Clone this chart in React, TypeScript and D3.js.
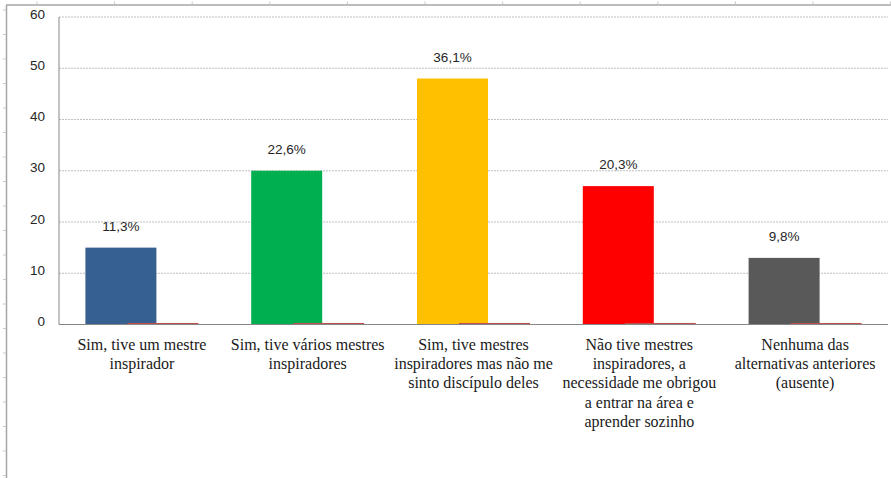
import React from "react";
import * as d3 from "d3";

const categories: string[][] = [
  ["Sim, tive um mestre", "inspirador"],
  ["Sim, tive vários mestres", "inspiradores"],
  ["Sim, tive mestres", "inspiradores mas não me", "sinto discípulo deles"],
  ["Não tive mestres", "inspiradores, a", "necessidade me obrigou", "a entrar na área e", "aprender sozinho"],
  ["Nenhuma das", "alternativas anteriores", "(ausente)"],
];
const counts = [15, 30, 48, 27, 13];
const secondSeries = [0.3, 0.3, 0.3, 0.3, 0.3];
const percentLabels = ["11,3%", "22,6%", "36,1%", "20,3%", "9,8%"];
const barColors = ["#36608F", "#00B050", "#FFC000", "#FF0000", "#595959"];
const yTicks = [0, 10, 20, 30, 40, 50, 60];

const W = 891;
const H = 478;
const plotLeft = 59;
const plotRight = 888;
const plotTop = 17;
const plotBottom = 324.5;

export default function App() {
  const x = d3
    .scaleBand<number>()
    .domain(d3.range(categories.length))
    .range([plotLeft, plotRight]);
  const y = d3.scaleLinear().domain([0, 60]).range([plotBottom, plotTop]);
  const bw = 71;
  const offset = 21;

  const topRulerTicks = d3.range(37, W, 77.6);
  const leftRulerTicks = d3.range(10, H, 24.5);

  return (
    <svg
      width={W}
      height={H}
      style={{ position: "absolute", left: 0, top: 0, background: "#fff" }}
      fontFamily="Liberation Sans, Arial, sans-serif"
    >
      <rect x={0} y={0} width={W} height={H} fill="#fff" />
      {/* page rulers */}
      <line x1={6.5} x2={6.5} y1={5} y2={H} stroke="#a6a6a6" strokeWidth={1.5} />
      <line x1={6} x2={W} y1={5} y2={5} stroke="#a6a6a6" strokeWidth={1.5} />
      {topRulerTicks.map((t, i) => (
        <line key={"tt" + i} x1={t} x2={t} y1={1.5} y2={4.5} stroke="#c8c8c8" strokeWidth={1} />
      ))}
      {leftRulerTicks.map((t, i) => (
        <line key={"lt" + i} x1={3} x2={6} y1={t} y2={t} stroke="#c8c8c8" strokeWidth={1} />
      ))}

      {/* gridlines */}
      {yTicks.filter((t) => t > 0).map((t) => (
        <line
          key={"g" + t}
          x1={plotLeft}
          x2={plotRight}
          y1={y(t)}
          y2={y(t)}
          stroke="#bfbfbf"
          strokeWidth={1}
          strokeDasharray="2,1"
        />
      ))}
      {/* y tick labels */}
      {yTicks.map((t) => (
        <text
          key={"yl" + t}
          x={45}
          y={y(t) - 2}
          textAnchor="end"
          dominantBaseline="middle"
          fontSize={13.5}
          fill="#262626"
        >
          {t}
        </text>
      ))}

      {/* bars */}
      {counts.map((v, i) => {
        const c = (x(i) as number) + x.bandwidth() / 2;
        return (
          <rect
            key={"b" + i}
            x={c - offset - bw / 2}
            y={y(v)}
            width={bw}
            height={y(0) - y(v)}
            fill={barColors[i]}
          />
        );
      })}
      {secondSeries.map((v, i) => {
        const c = (x(i) as number) + x.bandwidth() / 2;
        return (
          <rect
            key={"s" + i}
            x={c + offset - bw / 2}
            y={y(v)}
            width={bw}
            height={y(0) - y(v)}
            fill="#C0504D"
          />
        );
      })}
      {/* data labels */}
      {counts.map((v, i) => {
        const c = (x(i) as number) + x.bandwidth() / 2;
        return (
          <text
            key={"dl" + i}
            x={c - offset}
            y={y(v) - 17}
            textAnchor="middle"
            fontSize={13.5}
            fill="#262626"
          >
            {percentLabels[i]}
          </text>
        );
      })}

      {/* axes */}
      <line x1={plotLeft} x2={plotLeft} y1={plotTop} y2={plotBottom} stroke="#868686" strokeWidth={1} />
      <line x1={plotLeft} x2={plotRight} y1={plotBottom} y2={plotBottom} stroke="#868686" strokeWidth={1} />

      {/* category labels */}
      {categories.map((lines, i) => {
        const c = (x(i) as number) + x.bandwidth() / 2;
        return (
          <text
            key={"cl" + i}
            textAnchor="middle"
            fontFamily="Liberation Serif"
            fontSize={16}
            fill="#1a1a1a"
          >
            {lines.map((l, j) => (
              <tspan key={j} x={c} y={349.5 + j * 19.4}>
                {l}
              </tspan>
            ))}
          </text>
        );
      })}
    </svg>
  );
}
